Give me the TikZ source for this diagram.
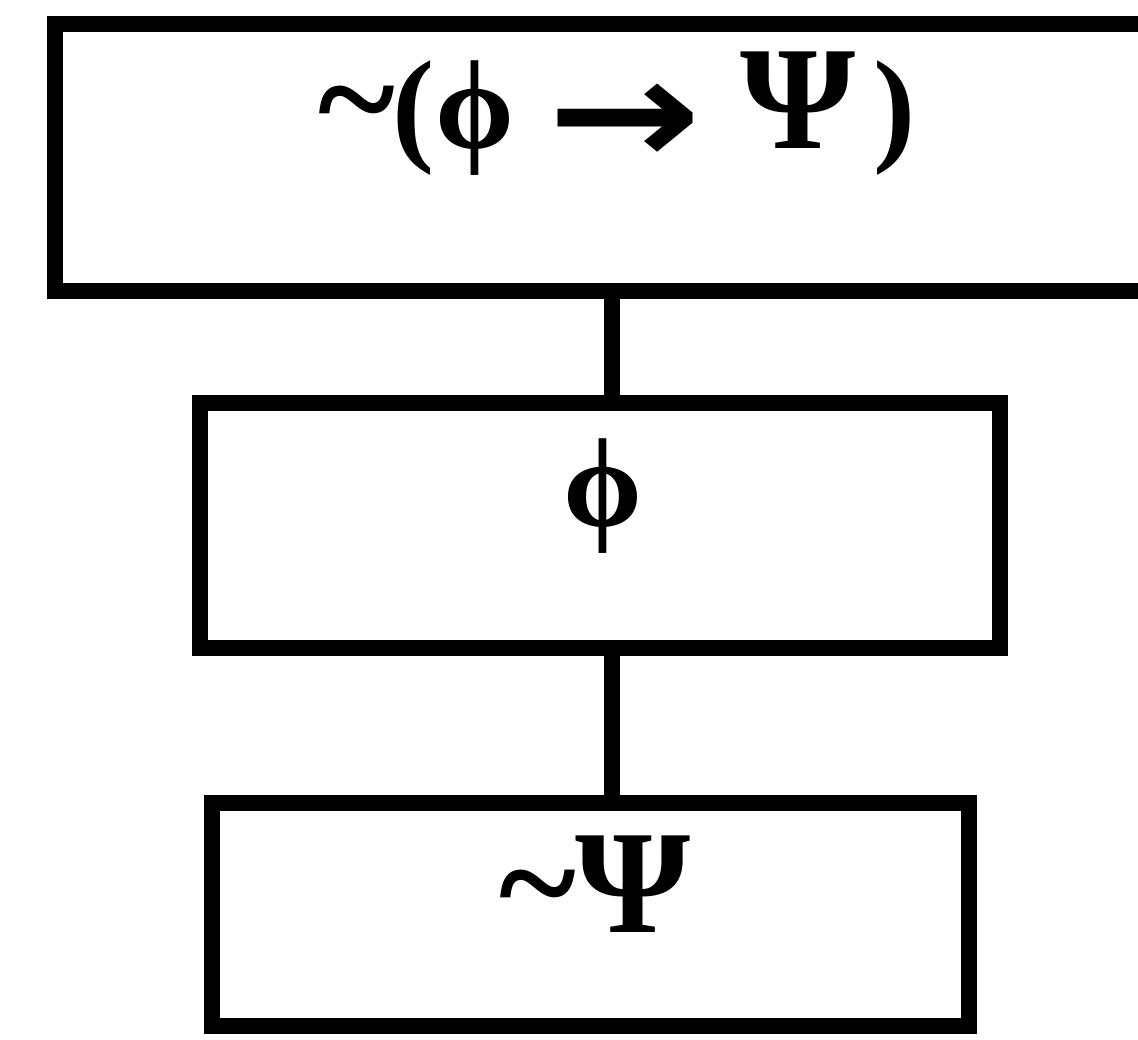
\documentclass[tikz,border=0pt]{standalone}
\usepackage{graphicx}
\usepackage{fontspec}
\setmainfont{Liberation Serif}
\newfontfamily\arrowfont{DejaVu Sans}
\usetikzlibrary{positioning}

% glyph sizes
\newcommand{\bigsize}{\fontsize{42}{48}\selectfont}
\newcommand{\arrowglyph}{\raisebox{-0.17cm}{\scalebox{1.22}[1]{\arrowfont\fontsize{43}{48}\selectfont →}}}

\begin{document}
\begin{tikzpicture}[
    box/.style={draw, line width=4.3pt, rectangle, inner sep=0pt},
    formula/.style={font=\fontsize{36}{42}\selectfont\bfseries, inner sep=0pt},
    link/.style={line width=4.3pt}
]
\useasboundingbox (0,0) rectangle (11.38,-10.39);
\clip (0,0) rectangle (11.38,-10.39);

% Boxes
\node[box, minimum width=11.05cm, minimum height=2.67cm] (premise) at (6.075,-1.575) {};
\node[box, minimum width=8.0cm, minimum height=2.45cm] (left) at (6.0,-5.255) {};
\node[box, minimum width=7.57cm, minimum height=2.23cm] (right) at (5.905,-9.145) {};

% Formulas
\node[formula, anchor=base] (premisetext) at (6.17,-1.48)
    {{\bigsize\textasciitilde}\hspace{-0.02cm}(ϕ\hspace{0.33cm}\arrowglyph\hspace{0.39cm}{\bigsize Ψ}\hspace{0.18cm})};
\node[formula] (lefttext) at (6.03,-4.96) {ϕ};
\node[formula, anchor=base] (righttext) at (5.95,-9.32) {{\bigsize\textasciitilde Ψ}};

% Links
\draw[link] ([xshift=0.12cm]left.north) -- ([xshift=0.12cm]left.north |- premise.south);
\draw[link] ([xshift=0.12cm]left.south) -- ([xshift=0.12cm]left.south |- right.north);
\end{tikzpicture}
\end{document}
